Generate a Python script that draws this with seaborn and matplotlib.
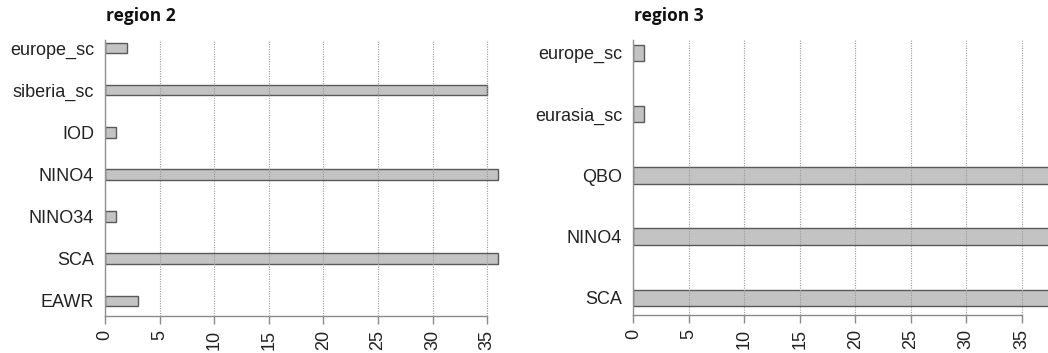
import matplotlib
matplotlib.use("Agg")
import matplotlib.pyplot as plt
import seaborn as sns
import pandas as pd

# Predictor counts per region
region2_labels = ["europe_sc", "siberia_sc", "IOD", "NINO4", "NINO34", "SCA", "EAWR"]
region2_counts = [2, 35, 1, 36, 1, 36, 3]

region3_labels = ["europe_sc", "eurasia_sc", "QBO", "NINO4", "SCA"]
region3_counts = [1, 1, 38, 38, 38]

tick_values = [0, 5, 10, 15, 20, 25, 30, 35]

sns.set_theme(style="white")
plt.rcParams["font.family"] = ["Liberation Sans", "DejaVu Sans"]

W, H = 1048, 353
fig = plt.figure(figsize=(W / 100, H / 100), dpi=100)

BAR_FACE = "#c3c3c3"
BAR_EDGE = "#5a5a5a"
AXIS_COL = "#8a8a8a"
TEXT_COL = "#222222"


def panel(left_px, unit_px, xmax, top_px, bottom_px, labels, counts, ylim, width, title):
    left = left_px / W
    w = unit_px * xmax / W
    bottom = (H - bottom_px) / H
    h = (bottom_px - top_px) / H
    ax = fig.add_axes([left, bottom, w, h])
    df = pd.DataFrame({"name": labels, "count": counts})
    sns.barplot(data=df, x="count", y="name", orient="h", width=width,
                color=BAR_FACE, edgecolor=BAR_EDGE, linewidth=1.0,
                saturation=1, ax=ax)
    for p in ax.patches:
        p.set_facecolor(BAR_FACE)
    ax.set_xlim(0, xmax)
    ax.set_ylim(*ylim)
    ax.set_xlabel("")
    ax.set_ylabel("")
    ax.set_xticks(tick_values)
    ax.set_xticklabels([str(v) for v in tick_values], rotation=90,
                       fontsize=13, color=TEXT_COL)
    ax.tick_params(axis="x", length=6, width=1, color=AXIS_COL, pad=4, bottom=True)
    ax.tick_params(axis="y", length=0, pad=8, labelsize=13, labelcolor=TEXT_COL)
    ax.grid(axis="x", linestyle=(0, (1, 1.2)), color="#9a9a9a", linewidth=0.8)
    ax.grid(axis="y", visible=False)
    ax.set_axisbelow(False)
    for s in ("top", "right"):
        ax.spines[s].set_visible(False)
    ax.spines["bottom"].set_bounds(0, 35)
    ax.spines["bottom"].set_color(AXIS_COL)
    ax.spines["left"].set_color(AXIS_COL)
    ax.spines["bottom"].set_linewidth(1.0)
    ax.spines["left"].set_linewidth(1.0)
    ax.patch.set_alpha(0)
    fig.text(left_px / W + 0.001, 1 - 16 / H, title, fontsize=12.5,
             fontweight="bold", family=["Open Sans", "DejaVu Sans"],
             ha="left", va="center", color="#111111")
    return ax


panel(105, 10.92, 37, 40, 316, region2_labels, region2_counts,
      (6.36, -0.19), 0.25, "region 2")
panel(633.3, 11.1, 40, 40, 315, region3_labels, region3_counts,
      (4.28, -0.21), 0.27, "region 3")

fig.savefig("out.png", dpi=100, facecolor="white")
